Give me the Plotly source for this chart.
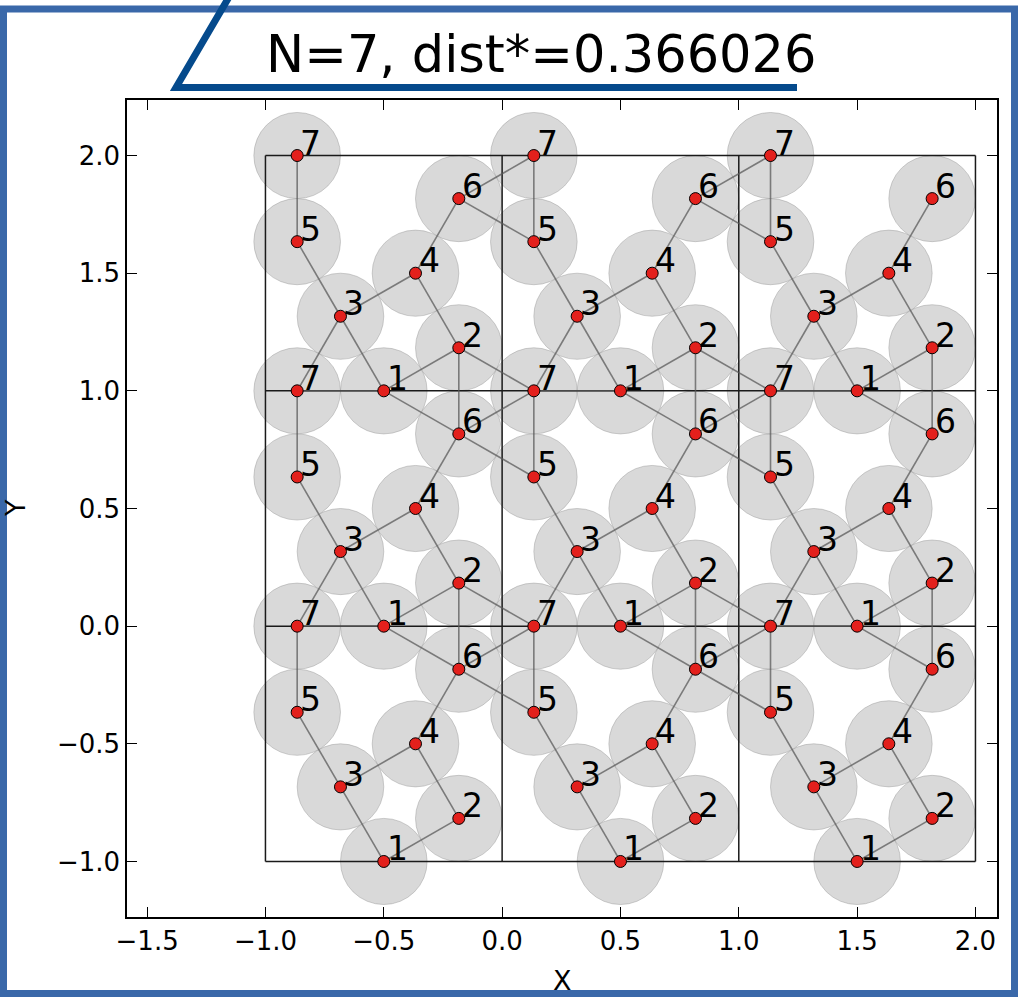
import math
import plotly.graph_objects as go

# ---------------- data ----------------
point_ids = [1, 2, 3, 4, 5, 6, 7]
base_x = [0.500, 0.817, 0.317, 0.634, 0.134, 0.817, 0.134]
base_y = [0.000, 0.183, 0.317, 0.500, 0.634, 0.817, 1.000]
tile_shifts = [-1, 0, 1]
cell_bounds = [-1, 0, 1, 2]
dist_star = 0.366026
title_text = "N=7, dist*=0.366026"
x_tick_vals = [-1.5, -1.0, -0.5, 0.0, 0.5, 1.0, 1.5, 2.0]
x_tick_text = ["−1.5", "−1.0", "−0.5", "0.0", "0.5", "1.0", "1.5", "2.0"]
y_tick_vals = [-1.0, -0.5, 0.0, 0.5, 1.0, 1.5, 2.0]
y_tick_text = ["−1.0", "−0.5", "0.0", "0.5", "1.0", "1.5", "2.0"]
x_label = "X"
y_label = "Y"

# ---------------- layout geometry ----------------
W, H = 1018, 1002
L, R, T, B = 127, 21, 100, 85
PW, PH = W - L - R, H - T - B


def px_x(px):
    return (px - L) / PW


def px_y(py):
    return (H - B - py) / PH


FONT = "DejaVu Sans"

# replicated points
pts = []
for sx in tile_shifts:
    for sy in tile_shifts:
        for pid, bx, by in zip(point_ids, base_x, base_y):
            pts.append((pid, bx + sx, by + sy))

fig = go.Figure()

# circles (radius = dist*/2)
r = dist_star / 2
shapes = []
for pid, x, y in pts:
    shapes.append(dict(type="circle", xref="x", yref="y",
                       x0=x - r, x1=x + r, y0=y - r, y1=y + r,
                       fillcolor="rgba(160,160,160,0.40)",
                       line=dict(color="rgba(150,150,150,0.45)", width=1),
                       layer="below"))

# cell boundaries
bx_, by_ = [], []
for v in cell_bounds:
    bx_ += [v, v, None, cell_bounds[0], cell_bounds[-1], None]
    by_ += [cell_bounds[0], cell_bounds[-1], None, v, v, None]
fig.add_trace(go.Scatter(x=bx_, y=by_, mode="lines",
                         line=dict(color="#1a1a1a", width=1.5),
                         hoverinfo="skip", showlegend=False))

# contact edges (pairs at distance dist*)
ex, ey = [], []
for i in range(len(pts)):
    for j in range(i + 1, len(pts)):
        dx = pts[i][1] - pts[j][1]
        dy = pts[i][2] - pts[j][2]
        if abs(math.hypot(dx, dy) - dist_star) < 0.01:
            ex += [pts[i][1], pts[j][1], None]
            ey += [pts[i][2], pts[j][2], None]
fig.add_trace(go.Scatter(x=ex, y=ey, mode="lines",
                         line=dict(color="rgba(90,90,90,0.75)", width=1.6),
                         hoverinfo="skip", showlegend=False))

# points
fig.add_trace(go.Scatter(x=[p[1] for p in pts], y=[p[2] for p in pts],
                         mode="markers",
                         marker=dict(color="#e3201c", size=12,
                                     line=dict(color="black", width=1)),
                         hoverinfo="skip", showlegend=False))

annotations = []
for pid, x, y in pts:
    annotations.append(dict(x=x, y=y, xref="x", yref="y", text=str(pid),
                            showarrow=False, xanchor="left", yanchor="bottom",
                            xshift=1, yshift=-9,
                            font=dict(family=FONT, size=33, color="black")))

# title
annotations.append(dict(x=px_x(540.5), y=px_y(54), xref="paper", yref="paper",
                        text=title_text, showarrow=False,
                        xanchor="center", yanchor="middle",
                        font=dict(family=FONT, size=51, color="black")))
# axis labels
annotations.append(dict(x=px_x(562.5), y=px_y(980), xref="paper", yref="paper",
                        text=x_label, showarrow=False,
                        xanchor="center", yanchor="middle",
                        font=dict(family=FONT, size=27, color="black")))
annotations.append(dict(x=px_x(15), y=px_y(508), xref="paper", yref="paper",
                        text=y_label, showarrow=False, textangle=-90,
                        xanchor="center", yanchor="middle",
                        font=dict(family=FONT, size=27, color="black")))

# blue frame
shapes.append(dict(type="rect", xref="paper", yref="paper",
                   x0=px_x(3.5), x1=px_x(1014.5), y0=px_y(9), y1=px_y(993.5),
                   line=dict(color="#3a68a9", width=7), fillcolor="rgba(0,0,0,0)",
                   layer="above"))
# dark blue underline stroke
path = "M {:.5f},{:.5f} L {:.5f},{:.5f} L {:.5f},{:.5f}".format(
    px_x(229), px_y(-3), px_x(176), px_y(87.5), px_x(797), px_y(87.5))
shapes.append(dict(type="path", xref="paper", yref="paper", path=path,
                   line=dict(color="#054a8c", width=7), layer="above"))

axis_common = dict(showgrid=False, zeroline=False, showline=True,
                   linecolor="black", linewidth=1.5, mirror="allticks",
                   ticks="inside", ticklen=10, tickwidth=1, tickcolor="black",
                   tickfont=dict(family=FONT, size=26, color="black"))

fig.update_layout(
    width=W, height=H,
    margin=dict(l=L, r=R, t=T, b=B, autoexpand=False),
    paper_bgcolor="white", plot_bgcolor="white",
    shapes=shapes, annotations=annotations,
    xaxis=dict(range=[-1.585, 2.091], tickvals=x_tick_vals, ticktext=x_tick_text,
               **axis_common),
    yaxis=dict(range=[-1.236, 2.236], tickvals=y_tick_vals, ticktext=y_tick_text,
               **axis_common),
    showlegend=False,
)

fig.write_html("out.html")
